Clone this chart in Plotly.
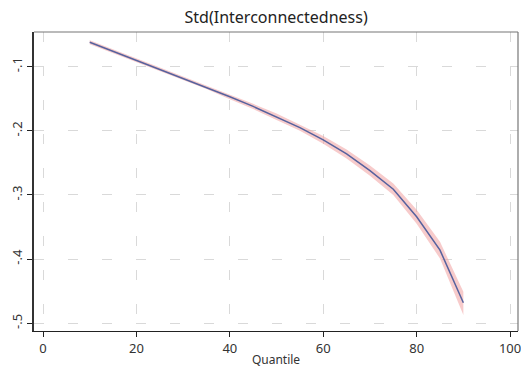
import plotly.graph_objects as go

quantile = [10, 15, 20, 25, 30, 35, 40, 45, 50, 55, 60, 65, 70, 75, 80, 85, 90]
estimate = [-0.062, -0.076, -0.090, -0.104, -0.118, -0.132, -0.147, -0.162, -0.178,
            -0.195, -0.214, -0.236, -0.262, -0.291, -0.334, -0.386, -0.468]
lower = [-0.065, -0.079, -0.093, -0.107, -0.121, -0.135, -0.151, -0.166, -0.183,
         -0.200, -0.220, -0.243, -0.270, -0.300, -0.345, -0.399, -0.487]
upper = [-0.059, -0.073, -0.087, -0.101, -0.115, -0.129, -0.143, -0.158, -0.173,
         -0.190, -0.208, -0.229, -0.254, -0.282, -0.323, -0.373, -0.451]

x_ticks = [0, 20, 40, 60, 80, 100]
y_ticks = [-0.1, -0.2, -0.3, -0.4, -0.5]
y_ticktext = ["-.1", "-.2", "-.3", "-.4", "-.5"]

fig = go.Figure()
fig.add_trace(go.Scatter(x=quantile, y=upper, mode="lines", line=dict(width=0),
                         showlegend=False, hoverinfo="skip"))
fig.add_trace(go.Scatter(x=quantile, y=lower, mode="lines", line=dict(width=0),
                         fill="tonexty", fillcolor="rgba(240,160,160,0.55)",
                         showlegend=False, hoverinfo="skip"))
fig.add_trace(go.Scatter(x=quantile, y=estimate, mode="lines",
                         line=dict(color="#56629e", width=1.5), showlegend=False))

font = "Noto Sans, Open Sans, sans-serif"
fig.update_layout(
    width=521, height=368,
    margin=dict(l=34, r=3, t=32, b=37, autoexpand=False),
    paper_bgcolor="white", plot_bgcolor="white",
    title=dict(text="Std(Interconnectedness)", x=0.53, xanchor="center", y=0.953,
               yanchor="middle", automargin=False,
               font=dict(family=font, size=16, color="#222")),
    font=dict(family=font, color="#333"),
    xaxis=dict(range=[-1.93, 101.7], tickvals=x_ticks, ticks="outside", ticklen=5,
               tickcolor="#222", showline=True, linecolor="#222", linewidth=1.2,
               showgrid=True, gridcolor="#d9d9d9", gridwidth=1, griddash="10px,24px",
               zeroline=False, automargin=False, ticklabeloverflow="allow",
               tickfont=dict(size=13, color="#333"),
               title=dict(text="Quantile", font=dict(size=12, color="#333"), standoff=0)),
    yaxis=dict(range=[-0.512, -0.046], tickvals=y_ticks, ticktext=y_ticktext,
               tickangle=-90, ticks="outside", ticklen=5, tickcolor="#222",
               showline=True, linecolor="#333", linewidth=1.6,
               showgrid=True, gridcolor="#d9d9d9", gridwidth=1, griddash="10px,24px",
               zeroline=False, automargin=False, ticklabeloverflow="allow",
               tickfont=dict(size=13, color="#333")),
    shapes=[
        dict(type="line", xref="paper", yref="paper", x0=0, x1=1, y0=1, y1=1,
             line=dict(color="#777", width=1.2)),
        dict(type="line", xref="paper", yref="paper", x0=1, x1=1, y0=0, y1=1,
             line=dict(color="#777", width=1.2)),
    ],
)

fig.write_html("out.html", config={"displayModeBar": False},
               post_script="document.body.style.margin='0';document.body.style.overflow='hidden';")
